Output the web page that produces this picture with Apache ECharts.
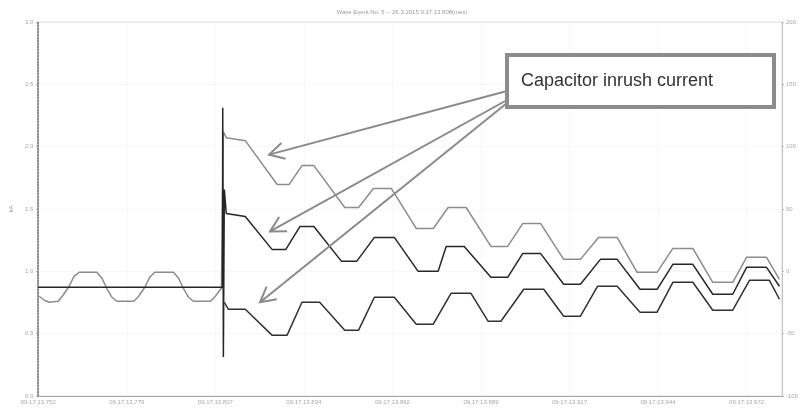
<!DOCTYPE html>
<html>
<head>
<meta charset="utf-8">
<title>Wave Event No. 5</title>
<script src="https://cdn.jsdelivr.net/npm/echarts@6/dist/echarts.min.js"></script>
<style>
  html, body { margin: 0; padding: 0; background: #ffffff; }
  #chart { width: 804px; height: 410px; }
</style>
</head>
<body>
<div id="chart"></div>
<script>
// x axis: milliseconds from the first label, one label every 27.5 ms
const timeLabels = [
  "09:17:13.752", "09:17:13.779", "09:17:13.807", "09:17:13.834", "09:17:13.862",
  "09:17:13.889", "09:17:13.917", "09:17:13.944", "09:17:13.972"
];
const labelStep = 27.5;

// top trace (grey): steady sine before switching, then the decaying inrush
const traceTop = [
  [0.3, 0.800], [1.9, 0.768], [3.4, 0.752], [6.2, 0.760], [7.7, 0.808], [9.6, 0.880],
  [11.1, 0.960], [12.7, 0.992], [18.2, 0.992], [19.8, 0.944], [21.3, 0.864], [22.9, 0.792],
  [24.4, 0.760], [29.7, 0.760], [31.2, 0.800], [33.1, 0.872], [34.6, 0.952], [36.2, 0.992],
  [42.0, 0.992], [43.6, 0.944], [45.1, 0.864], [46.7, 0.792], [48.2, 0.760], [53.5, 0.760],
  [55.0, 0.800], [56.9, 0.864],
  [57.5, 2.120], [58.4, 2.072], [64.3, 2.048], [74.2, 1.696], [77.9, 1.696], [81.9, 1.848],
  [85.6, 1.848], [95.2, 1.512], [99.5, 1.512], [104.1, 1.664], [109.7, 1.664], [117.4, 1.344],
  [122.7, 1.344], [127.3, 1.512], [132.9, 1.512], [140.6, 1.200], [145.8, 1.200], [150.5, 1.384],
  [156.0, 1.384], [163.2, 1.096], [168.4, 1.096], [174.0, 1.272], [179.8, 1.272], [186.0, 0.992],
  [192.2, 0.992], [197.1, 1.184], [203.3, 1.184], [209.5, 0.912], [215.7, 0.912], [220.0, 1.112],
  [226.2, 1.112], [230.2, 0.936]
];

// middle trace (black): flat before switching, switching spike, then inrush
const traceMid = [
  [0, 0.872], [57.2, 0.872], [57.3, 2.312], [57.5, 0.312], [57.8, 1.656], [58.4, 1.464],
  [64.3, 1.440], [72.6, 1.176], [76.9, 1.176], [81.3, 1.360], [85.6, 1.360], [94.2, 1.080],
  [98.9, 1.080], [104.4, 1.272], [110.6, 1.272], [118.0, 1.000], [124.2, 1.000], [126.7, 1.200],
  [132.3, 1.200], [140.6, 0.952], [145.8, 0.952], [150.5, 1.144], [156.0, 1.144], [163.2, 0.896],
  [168.4, 0.896], [174.6, 1.096], [179.8, 1.096], [186.9, 0.856], [192.2, 0.856], [197.1, 1.056],
  [203.3, 1.056], [209.5, 0.816], [215.7, 0.816], [220.0, 1.032], [226.2, 1.032], [230.2, 0.880]
];

// bottom trace (black): only after switching
const traceLow = [
  [57.8, 0.752], [59.0, 0.696], [64.3, 0.696], [72.6, 0.488], [77.3, 0.488], [81.9, 0.752],
  [87.4, 0.752], [95.2, 0.528], [99.5, 0.528], [104.4, 0.792], [110.6, 0.792], [117.4, 0.576],
  [122.7, 0.576], [128.2, 0.824], [134.4, 0.824], [139.7, 0.600], [143.7, 0.600], [150.8, 0.856],
  [157.0, 0.856], [163.2, 0.640], [168.4, 0.640], [173.7, 0.880], [179.8, 0.880], [186.9, 0.672],
  [192.2, 0.672], [197.1, 0.912], [203.3, 0.912], [209.5, 0.688], [215.7, 0.688], [220.9, 0.928],
  [227.1, 0.928], [230.2, 0.776]
];

// arrow tips of the annotation, in data units (ms, kA)
const arrowTips = [[71.7, 1.936], [72.0, 1.320], [68.9, 0.752]];

const chart = echarts.init(document.getElementById("chart"), null, { renderer: "canvas" });

const labelColor = "#a8a8a8";
const option = {
  animation: false,
  backgroundColor: "#ffffff",
  title: {
    text: "Wave Event No. 5 -- 26.3.2015 9:17:13.808(mes)",
    left: "center",
    top: 4,
    textStyle: { fontSize: 6, fontWeight: "normal", color: "#9a9a9a", fontFamily: "Liberation Sans" }
  },
  grid: {
    left: 35, right: 22, top: 22, bottom: 14,
    show: true, borderColor: "#d8d8d8", borderWidth: 1
  },
  xAxis: {
    type: "value",
    min: 0,
    max: 231,
    interval: labelStep,
    axisLine: { show: true, lineStyle: { color: "#9a9a9a", type: "dotted", width: 1 } },
    axisTick: { show: false },
    splitLine: { show: true, lineStyle: { color: "#f0f0f0", type: "dotted" } },
    axisLabel: {
      fontSize: 6, color: labelColor, margin: 3, fontFamily: "Liberation Sans",
      showMaxLabel: false,
      formatter: function (v) {
        const i = Math.round(v / labelStep);
        if (Math.abs(v - i * labelStep) > 0.01) return "";
        return timeLabels[i] || "";
      }
    }
  },
  yAxis: [
    {
      type: "value",
      min: 0, max: 3, interval: 0.5,
      name: "kA",
      nameLocation: "middle",
      nameGap: 24,
      nameRotate: 90,
      nameTextStyle: { fontSize: 6, color: "#9a9a9a" },
      axisLine: { show: true, lineStyle: { color: "#6a6a6a", type: "dotted", width: 1.5 } },
      axisTick: { show: true, length: 2, lineStyle: { color: "#9a9a9a" } },
      splitLine: { show: true, lineStyle: { color: "#f0f0f0", type: "dotted" } },
      axisLabel: {
        fontSize: 6, color: labelColor, margin: 5, fontFamily: "Liberation Sans",
        formatter: v => v.toFixed(1)
      }
    },
    {
      type: "value",
      position: "right",
      min: -100, max: 200, interval: 50,
      axisLine: { show: true, lineStyle: { color: "#b8b8b8", type: "dotted", width: 1 } },
      axisTick: { show: true, length: 2, lineStyle: { color: "#b8b8b8" } },
      splitLine: { show: false },
      axisLabel: { fontSize: 6, color: labelColor, margin: 4, fontFamily: "Liberation Sans" }
    }
  ],
  series: [
    {
      name: "top", type: "line", data: traceTop, showSymbol: false, symbol: "none",
      lineStyle: { color: "#8c8c8c", width: 1.5 }, z: 2
    },
    {
      name: "mid", type: "line", data: traceMid, showSymbol: false, symbol: "none",
      lineStyle: { color: "#262626", width: 1.5 }, z: 3
    },
    {
      name: "low", type: "line", data: traceLow, showSymbol: false, symbol: "none",
      lineStyle: { color: "#303030", width: 1.5 }, z: 3
    }
  ]
};
chart.setOption(option);

// annotation: box with label and three arrows pointing at the traces
const boxX = 507, boxY = 55, boxW = 267, boxH = 52;
const arrowStarts = [[507, 91], [507, 100], [507, 103]];
const arrowColor = "#8a8a8a";

function arrow(from, tip) {
  const ang = Math.atan2(from[1] - tip[1], from[0] - tip[0]);
  const len = 17, spread = 0.5;
  const w1 = [tip[0] + len * Math.cos(ang + spread), tip[1] + len * Math.sin(ang + spread)];
  const w2 = [tip[0] + len * Math.cos(ang - spread), tip[1] + len * Math.sin(ang - spread)];
  return [
    { type: "line", z: 10, shape: { x1: from[0], y1: from[1], x2: tip[0], y2: tip[1] },
      style: { stroke: arrowColor, lineWidth: 2 } },
    { type: "polyline", z: 10, shape: { points: [w1, tip, w2] },
      style: { stroke: arrowColor, lineWidth: 2, fill: null } }
  ];
}

let graphics = [];
arrowTips.forEach((t, i) => {
  const tip = chart.convertToPixel({ xAxisIndex: 0, yAxisIndex: 0 }, t);
  graphics = graphics.concat(arrow(arrowStarts[i], tip));
});
graphics.push({
  type: "rect", z: 11,
  shape: { x: boxX, y: boxY, width: boxW, height: boxH },
  style: { fill: "#ffffff", stroke: "#8c8c8c", lineWidth: 4 }
});
graphics.push({
  type: "text", z: 12, x: boxX + 14, y: boxY + boxH / 2,
  style: {
    text: "Capacitor inrush current",
    font: "18px 'Liberation Sans', Arial, sans-serif",
    fill: "#333333",
    verticalAlign: "middle"
  }
});
chart.setOption({ graphic: graphics });

window.addEventListener("resize", () => chart.resize());
</script>
</body>
</html>
